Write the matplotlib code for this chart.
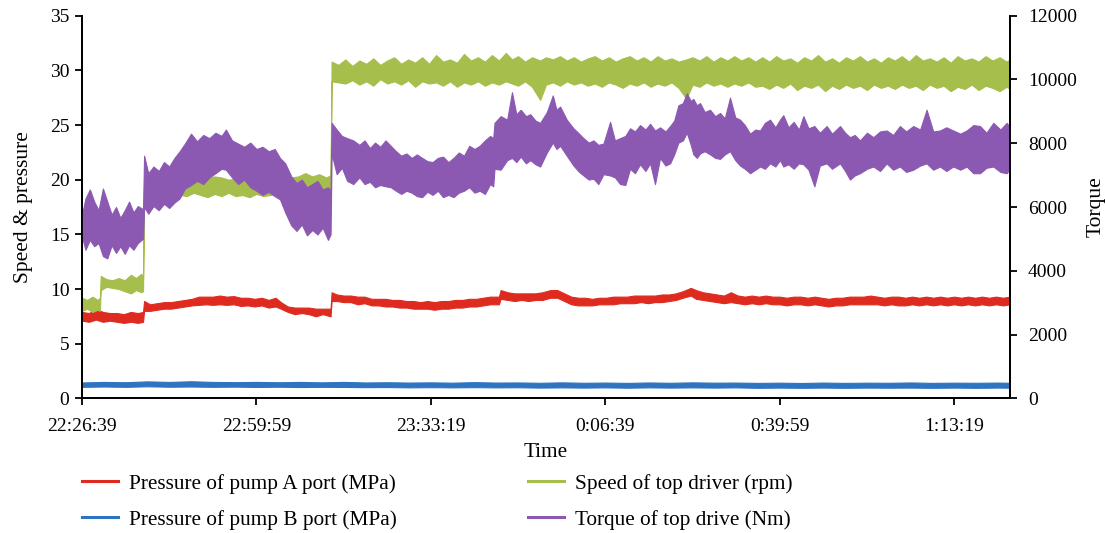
import numpy as np
import matplotlib
matplotlib.use("Agg")
import matplotlib.pyplot as plt
from matplotlib.lines import Line2D

plt.rcParams['font.family'] = ['Liberation Serif', 'DejaVu Serif']

# time axis: seconds after 22:26:39
time_ticks = [0, 2000, 4000, 6000, 8000, 10000]
time_labels = ['22:26:39', '22:59:59', '23:33:19', '0:06:39', '0:39:59', '1:13:19']
t_end = 10640

# noisy records, given as (seconds, lower edge, upper edge) of the trace band
# pump A port pressure, MPa
pump_a = [
    (0, 7.1, 7.9), (80, 7.0, 7.8), (160, 7.2, 8.2), (240, 7.0, 7.9), (320, 7.1, 7.8),
    (400, 7.0, 7.8), (480, 6.9, 7.7), (560, 7.0, 7.9), (640, 6.9, 7.8), (700, 7.0, 7.9),
    (712, 8.0, 8.9), (780, 8.0, 8.6), (860, 8.1, 8.7), (940, 8.2, 8.8), (1020, 8.2, 8.8),
    (1100, 8.3, 8.9), (1180, 8.4, 9.0), (1260, 8.5, 9.1), (1340, 8.55, 9.3), (1420, 8.6, 9.3),
    (1500, 8.55, 9.3), (1580, 8.6, 9.4), (1660, 8.55, 9.3), (1740, 8.6, 9.35), (1820, 8.45, 9.2),
    (1900, 8.5, 9.2), (1980, 8.4, 9.1), (2060, 8.5, 9.2), (2140, 8.3, 9.0), (2220, 8.4, 9.2),
    (2280, 8.2, 8.8), (2360, 7.9, 8.4), (2440, 7.7, 8.3), (2520, 7.8, 8.3), (2600, 7.7, 8.3),
    (2680, 7.5, 8.2), (2760, 7.7, 8.2), (2850, 7.5, 8.2),
    (2862, 8.9, 9.7), (2920, 8.9, 9.5), (3000, 8.8, 9.4), (3080, 8.8, 9.4), (3160, 8.6, 9.3),
    (3240, 8.7, 9.3), (3320, 8.5, 9.1), (3400, 8.5, 9.1), (3480, 8.4, 9.1), (3560, 8.4, 9.0),
    (3640, 8.3, 9.0), (3720, 8.3, 8.9), (3800, 8.2, 8.9), (3880, 8.2, 8.8), (3960, 8.2, 8.9),
    (4040, 8.1, 8.8), (4120, 8.2, 8.9), (4200, 8.2, 8.9), (4280, 8.3, 9.0), (4360, 8.3, 9.0),
    (4440, 8.4, 9.1), (4520, 8.4, 9.1), (4600, 8.5, 9.2), (4680, 8.6, 9.3), (4780, 8.6, 9.3),
    (4800, 9.1, 9.9), (4880, 9.0, 9.7), (4960, 8.9, 9.6), (5040, 9.0, 9.6), (5120, 8.9, 9.6),
    (5200, 9.0, 9.6), (5280, 9.0, 9.7), (5370, 9.2, 9.9), (5450, 9.2, 9.9), (5530, 8.9, 9.6),
    (5610, 8.6, 9.3), (5690, 8.5, 9.2), (5770, 8.5, 9.2), (5850, 8.5, 9.1), (5930, 8.6, 9.2),
    (6010, 8.6, 9.2), (6090, 8.6, 9.3), (6170, 8.7, 9.3), (6250, 8.7, 9.3), (6330, 8.7, 9.4),
    (6410, 8.8, 9.4), (6490, 8.7, 9.4), (6570, 8.8, 9.4), (6650, 8.8, 9.5), (6730, 8.9, 9.5),
    (6810, 9.0, 9.6), (6890, 9.2, 9.8), (6980, 9.4, 10.1), (7040, 9.1, 9.9), (7120, 9.0, 9.7),
    (7200, 8.9, 9.6), (7280, 8.8, 9.5), (7360, 8.7, 9.4), (7440, 8.8, 9.7), (7520, 8.7, 9.4),
    (7600, 8.6, 9.3), (7680, 8.7, 9.4), (7760, 8.6, 9.3), (7840, 8.7, 9.4), (7920, 8.6, 9.3),
    (8000, 8.6, 9.3), (8080, 8.5, 9.2), (8160, 8.6, 9.3), (8240, 8.6, 9.3), (8320, 8.5, 9.2),
    (8400, 8.6, 9.3), (8480, 8.5, 9.2), (8560, 8.4, 9.1), (8640, 8.5, 9.2), (8720, 8.5, 9.2),
    (8800, 8.6, 9.3), (8880, 8.6, 9.3), (8960, 8.6, 9.3), (9040, 8.6, 9.4), (9120, 8.6, 9.3),
    (9200, 8.5, 9.2), (9280, 8.6, 9.3), (9360, 8.5, 9.3), (9440, 8.5, 9.2), (9520, 8.6, 9.3),
    (9600, 8.5, 9.2), (9680, 8.6, 9.3), (9760, 8.5, 9.2), (9840, 8.6, 9.3), (9920, 8.5, 9.2),
    (10000, 8.6, 9.3), (10080, 8.5, 9.2), (10160, 8.6, 9.3), (10240, 8.5, 9.2), (10320, 8.6, 9.3),
    (10400, 8.5, 9.2), (10480, 8.6, 9.3), (10560, 8.5, 9.2), (10640, 8.6, 9.3),
]

# pump B port pressure, MPa
pump_b = [
    (0, 1.05, 1.45), (250, 1.08, 1.5), (500, 1.05, 1.47), (750, 1.1, 1.55), (1000, 1.06, 1.5),
    (1250, 1.08, 1.56), (1500, 1.05, 1.5), (1750, 1.07, 1.48), (2000, 1.04, 1.5), (2250, 1.06, 1.47),
    (2500, 1.03, 1.5), (2750, 1.05, 1.46), (3000, 1.04, 1.5), (3250, 1.02, 1.45), (3500, 1.03, 1.47),
    (3750, 1.0, 1.44), (4000, 1.02, 1.46), (4250, 1.0, 1.43), (4500, 1.02, 1.48), (4750, 1.0, 1.44),
    (5000, 1.01, 1.45), (5250, 0.98, 1.42), (5500, 1.0, 1.46), (5750, 0.98, 1.42), (6000, 1.0, 1.44),
    (6250, 0.97, 1.41), (6500, 1.0, 1.45), (6750, 0.98, 1.42), (7000, 1.0, 1.46), (7250, 0.98, 1.43),
    (7500, 1.0, 1.44), (7750, 0.96, 1.41), (8000, 0.98, 1.43), (8250, 0.96, 1.4), (8500, 0.98, 1.44),
    (8750, 0.96, 1.41), (9000, 0.98, 1.43), (9250, 0.97, 1.42), (9500, 0.98, 1.45), (9750, 0.96, 1.41),
    (10000, 0.98, 1.43), (10250, 0.96, 1.42), (10500, 0.98, 1.44), (10640, 0.97, 1.42),
]

# top drive speed, rpm
speed = [
    (0, 8.0, 9.2), (60, 8.2, 9.0), (120, 7.9, 9.3), (180, 8.1, 9.0), (205, 8.0, 9.2),
    (215, 9.9, 11.2), (280, 10.2, 10.9), (350, 10.1, 10.8), (420, 10.0, 11.0), (490, 9.8, 10.8),
    (560, 9.6, 11.3), (620, 9.9, 11.0), (680, 9.7, 11.4), (700, 9.8, 11.0),
    (712, 18.8, 20.3), (900, 18.8, 20.2), (1130, 18.6, 20.0), (1200, 18.5, 20.1), (1280, 18.8, 20.3),
    (1360, 18.6, 20.0), (1440, 18.4, 20.2), (1520, 18.7, 20.3), (1600, 18.5, 20.2), (1680, 18.8, 20.0),
    (1760, 18.5, 20.1), (1840, 18.6, 19.9), (1920, 18.4, 20.0), (2000, 18.7, 19.9), (2080, 18.5, 19.8),
    (2160, 18.6, 20.0), (2240, 18.7, 19.9), (2320, 18.9, 20.1), (2400, 19.1, 20.2), (2480, 19.0, 20.3),
    (2560, 19.2, 20.6), (2640, 19.1, 20.3), (2720, 19.0, 20.5), (2800, 19.2, 20.2), (2850, 18.9, 20.4),
    (2862, 29.0, 30.8), (2940, 28.9, 30.5), (3020, 28.8, 31.0), (3100, 29.1, 30.4), (3180, 28.7, 30.9),
    (3260, 29.0, 30.6), (3340, 28.6, 31.1), (3420, 29.2, 30.5), (3500, 28.8, 30.9), (3580, 29.0, 31.2),
    (3660, 28.7, 30.6), (3740, 29.1, 31.0), (3820, 28.5, 30.7), (3900, 29.0, 31.2), (3980, 28.8, 30.6),
    (4060, 28.9, 31.4), (4140, 28.6, 30.8), (4220, 29.0, 31.0), (4300, 28.5, 30.7), (4380, 28.9, 31.5),
    (4460, 28.7, 30.9), (4540, 29.0, 31.2), (4620, 28.6, 30.8), (4700, 28.9, 31.4), (4780, 28.7, 30.9),
    (4860, 29.0, 31.6), (4930, 28.8, 31.0), (5000, 28.6, 31.3), (5080, 29.0, 30.8), (5160, 28.5, 31.2),
    (5253, 27.3, 30.9), (5320, 28.7, 31.2), (5400, 28.9, 31.0), (5480, 28.6, 31.3), (5560, 29.0, 30.9),
    (5640, 28.7, 31.2), (5720, 28.9, 30.8), (5800, 28.6, 31.1), (5880, 28.8, 31.3), (5960, 28.5, 30.9),
    (6040, 28.9, 31.2), (6120, 28.7, 30.8), (6200, 28.4, 31.1), (6280, 28.8, 31.3), (6360, 28.6, 30.9),
    (6440, 28.9, 31.2), (6520, 28.5, 30.8), (6600, 28.8, 31.3), (6680, 28.6, 30.9), (6760, 28.9, 31.1),
    (6840, 28.4, 30.8), (6930, 27.4, 31.0), (7000, 28.7, 31.2), (7080, 28.5, 30.9), (7160, 28.9, 31.3),
    (7240, 28.6, 30.8), (7320, 28.8, 31.2), (7400, 28.5, 30.9), (7480, 28.8, 31.3), (7560, 28.6, 30.9),
    (7640, 28.9, 31.2), (7720, 28.5, 30.8), (7800, 28.6, 31.2), (7880, 28.3, 30.8), (7960, 28.7, 31.3),
    (8040, 28.4, 30.9), (8120, 28.8, 31.1), (8200, 28.2, 30.7), (8280, 28.6, 31.2), (8360, 28.4, 30.9),
    (8440, 28.7, 31.4), (8520, 28.1, 30.8), (8600, 28.6, 31.1), (8680, 28.3, 30.7), (8760, 28.7, 31.2),
    (8840, 28.4, 30.9), (8920, 28.6, 31.3), (9000, 28.2, 30.8), (9080, 28.7, 31.1), (9160, 28.4, 30.7),
    (9240, 28.6, 31.2), (9320, 28.3, 30.9), (9400, 28.7, 31.3), (9480, 28.4, 30.8), (9560, 28.6, 31.4),
    (9640, 28.2, 30.9), (9720, 28.7, 31.1), (9800, 28.4, 30.8), (9880, 28.6, 31.2), (9960, 28.1, 30.7),
    (10040, 28.5, 31.3), (10120, 28.3, 30.9), (10200, 28.7, 31.1), (10280, 28.2, 30.8), (10360, 28.6, 31.3),
    (10440, 28.4, 30.9), (10520, 28.1, 31.2), (10600, 28.5, 30.8), (10640, 28.3, 31.0),
]

# top drive torque, Nm
torque = [
    (0, 5070, 5760), (40, 4660, 6270), (90, 4970, 6550), (140, 4770, 6170), (190, 4870, 5900),
    (240, 4460, 6580), (290, 4390, 6170), (340, 4800, 5760), (390, 4560, 6000), (440, 4770, 5660),
    (490, 4530, 5900), (540, 4800, 6170), (590, 4660, 5830), (640, 4870, 6030), (700, 5010, 5930),
    (712, 6000, 7610), (760, 5790, 7060), (820, 6030, 7270), (880, 5900, 7130), (940, 6100, 7410),
    (1000, 5970, 7270), (1060, 6140, 7540), (1120, 6270, 7750), (1180, 6580, 7990), (1250, 6690, 8300),
    (1320, 6820, 8060), (1390, 6720, 8260), (1460, 6930, 8160), (1530, 7060, 8330), (1600, 7200, 8230),
    (1650, 7170, 8430), (1720, 6930, 8090), (1790, 6720, 7990), (1860, 6860, 7890), (1930, 6620, 8020),
    (2000, 6510, 7820), (2070, 6380, 7890), (2140, 6480, 7750), (2210, 6340, 7820), (2270, 6240, 7540),
    (2330, 5830, 7370), (2400, 5420, 6960), (2460, 5250, 6750), (2520, 5450, 6860), (2580, 5110, 6620),
    (2640, 5280, 6720), (2700, 5140, 6820), (2760, 5350, 6550), (2820, 4970, 6620), (2850, 5140, 6510),
    (2862, 7680, 8640), (2920, 7030, 8430), (2980, 7230, 8230), (3040, 6820, 8160), (3110, 6720, 8090),
    (3180, 6930, 7950), (3240, 6720, 8090), (3300, 6790, 7850), (3360, 6620, 8020), (3420, 6690, 7890),
    (3480, 6650, 8090), (3540, 6620, 7920), (3600, 6510, 7750), (3660, 6410, 7610), (3720, 6510, 7680),
    (3780, 6450, 7540), (3840, 6340, 7650), (3900, 6310, 7540), (3960, 6480, 7440), (4020, 6380, 7410),
    (4080, 6510, 7540), (4140, 6310, 7580), (4200, 6380, 7410), (4260, 6310, 7540), (4320, 6450, 7710),
    (4380, 6510, 7610), (4440, 6620, 7920), (4500, 6450, 7820), (4560, 6510, 7920), (4620, 6410, 8090),
    (4680, 6720, 8230), (4715, 6650, 8160),
    (4730, 7200, 8640), (4800, 7170, 8850), (4875, 7470, 8740), (4930, 7540, 9600), (4980, 7410, 8910),
    (5030, 7580, 9050), (5090, 7370, 8850), (5140, 7470, 8910), (5200, 7340, 8710), (5253, 7270, 8640),
    (5330, 7710, 8980), (5398, 8020, 9500), (5440, 7820, 9050), (5482, 7920, 9150), (5558, 7610, 8740),
    (5635, 7300, 8470), (5700, 7100, 8300), (5750, 6990, 8160), (5810, 6860, 8020), (5864, 6890, 8090),
    (5920, 6720, 7950), (5979, 7030, 7990), (6055, 6990, 8670), (6110, 6930, 8090), (6170, 6720, 8160),
    (6230, 6690, 8230), (6284, 7200, 8470), (6340, 7060, 8370), (6399, 7340, 8570), (6460, 7130, 8430),
    (6514, 7370, 8610), (6570, 6720, 8400), (6628, 7540, 8500), (6690, 7300, 8370), (6743, 7370, 8540),
    (6790, 7650, 8710), (6838, 8020, 9190), (6890, 8090, 9260), (6934, 8330, 9570), (6980, 7950, 9330),
    (7010, 7650, 9390), (7050, 7540, 9190), (7086, 7680, 9260), (7140, 7750, 8980), (7201, 7650, 9050),
    (7260, 7540, 8850), (7316, 7510, 8950), (7370, 7650, 8780), (7430, 7750, 9430), (7490, 7470, 8810),
    (7545, 7300, 8740), (7600, 7200, 8570), (7660, 7060, 8300), (7720, 7170, 8430), (7774, 7270, 8400),
    (7830, 7200, 8640), (7889, 7370, 8740), (7950, 7270, 8500), (8003, 7470, 8740), (8041, 7270, 8880),
    (8100, 7340, 8500), (8160, 7200, 8670), (8220, 7370, 8430), (8271, 7340, 8850), (8330, 7170, 8470),
    (8397, 6650, 8540), (8460, 7300, 8330), (8538, 7370, 8540), (8600, 7200, 8300), (8691, 7370, 8540),
    (8750, 7130, 8330), (8805, 6860, 8190), (8860, 6990, 8260), (8920, 7060, 8090), (9000, 7200, 8330),
    (9073, 7270, 8190), (9150, 7130, 8370), (9226, 7370, 8400), (9300, 7170, 8260), (9378, 7270, 8540),
    (9450, 7100, 8370), (9531, 7170, 8540), (9610, 7300, 8430), (9684, 7370, 9050), (9760, 7170, 8370),
    (9837, 7270, 8400), (9910, 7130, 8500), (9990, 7270, 8400), (10070, 7170, 8300), (10143, 7270, 8400),
    (10220, 7060, 8570), (10296, 7060, 8540), (10370, 7230, 8330), (10449, 7270, 8640), (10530, 7100, 8430),
    (10602, 7060, 8640), (10640, 7200, 8500),
]

labels = ['Pressure of pump A port (MPa)', 'Pressure of pump B port (MPa)',
          'Speed of top driver (rpm)', 'Torque of top drive (Nm)']
colors = ['#DF2B1F', '#2F74C1', '#A6BE4B', '#8C59B2']

fig = plt.figure(figsize=(11.05, 5.33), dpi=100)
ax = fig.add_axes([0.0742, 0.2527, 0.8398, 0.7178])
ax2 = ax.twinx()


def band(axis, rows, color):
    t, lo, hi = (np.array(c, dtype=float) for c in zip(*rows))
    axis.fill_between(t, lo, hi, color=color, lw=0.8, edgecolor=color)


band(ax, pump_a, colors[0])
band(ax, pump_b, colors[1])
band(ax, speed, colors[2])
band(ax2, torque, colors[3])

ax.set_xlim(0, t_end)
ax.set_ylim(0, 35)
ax2.set_ylim(0, 12000)
ax.set_xticks(time_ticks)
ax.set_xticklabels(time_labels)
ax.set_yticks(range(0, 36, 5))
ax2.set_yticks(range(0, 12001, 2000))

for a in (ax, ax2):
    a.spines['top'].set_visible(False)
    for s in a.spines.values():
        s.set_linewidth(1.3)
    a.tick_params(direction='out', length=5, width=1.3, labelsize=14)
ax.tick_params(axis='x', pad=9)
ax.tick_params(axis='y', pad=4)
ax2.tick_params(axis='y', pad=8)

ax.set_xlabel('Time', fontsize=15.3, labelpad=6)
ax.set_ylabel('Speed & pressure', fontsize=15.5, labelpad=12)
ax2.set_ylabel('Torque', fontsize=15.5, labelpad=7)

handles = [Line2D([], [], color=c, lw=2.2) for c in colors]
fig.legend(handles, labels, ncol=2, loc='upper left', bbox_to_anchor=(0.057, 0.147),
           frameon=False, fontsize=15.3, handlelength=1.7, handletextpad=0.5,
           columnspacing=6.2, labelspacing=0.75)

fig.savefig('out.png', dpi=100)
